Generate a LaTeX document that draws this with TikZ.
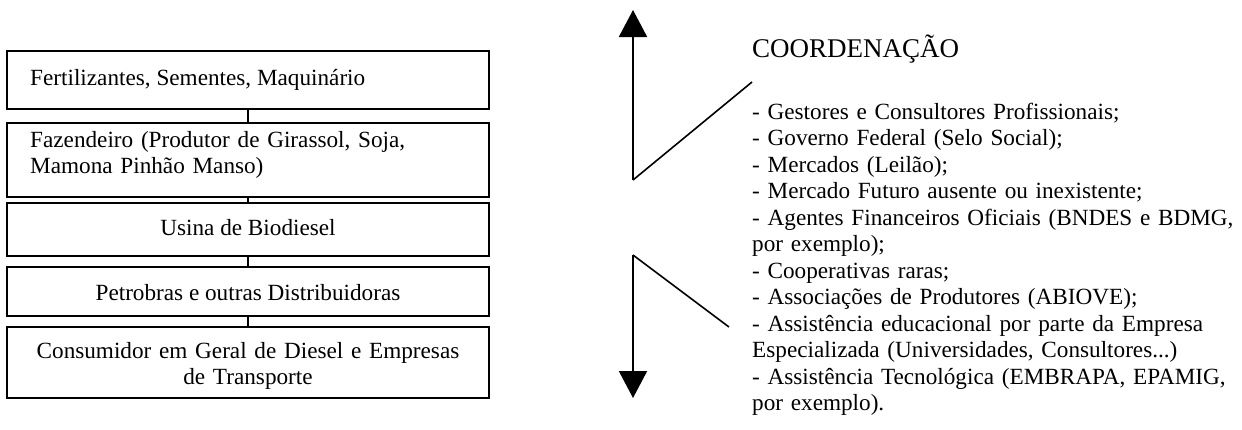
\documentclass[tikz,border=0pt]{standalone}
\usepackage{fontspec}
\setmainfont{Liberation Serif}
\usetikzlibrary{arrows.meta}
\begin{document}
\begin{tikzpicture}[x=1pt,y=-1pt,
  stagebox/.style={draw, line width=2pt, rectangle, inner sep=0pt, minimum width=482pt},
  lbl/.style={inner sep=0pt, font=\fontsize{23.2}{26.5}\selectfont},
  link/.style={line width=2pt},
  bigarrow/.style={line width=2pt, -{Triangle[length=27pt,width=28pt]}},
  diag/.style={line width=1.6pt}]
\useasboundingbox (0,0) rectangle (1242,429);
% chain boxes
\node[stagebox, minimum height=58pt] (b1) at (248,80) {};
\node[stagebox, minimum height=74pt] (b2) at (248,160) {};
\node[stagebox, minimum height=53pt] (b3) at (248,229.5) {};
\node[stagebox, minimum height=49pt] (b4) at (248,291.5) {};
\node[stagebox, minimum height=71pt] (b5) at (248,362.5) {};
\draw[link] (b1.south) -- (b2.north);
\draw[link] (b2.south) -- (b3.north);
\draw[link] (b3.south) -- (b4.north);
\draw[link] (b4.south) -- (b5.north);
% box texts
\node[lbl, anchor=base west] (t1) at (30,85) {Fertilizantes, Sementes, Maquinário};
\node[lbl, anchor=base west, text width=455pt, align=left] (t2) at (30,147) {Fazendeiro (Produtor de Girassol, Soja,\\Mamona Pinhão Manso)};
\node[lbl, anchor=base] (t3) at (248,235) {Usina de Biodiesel};
\node[lbl, anchor=base] (t4) at (248,300) {Petrobras e outras Distribuidoras};
\node[lbl, anchor=base, text width=470pt, align=center] (t5) at (248,358) {Consumidor em Geral de Diesel e Empresas\\de Transporte};
% arrows
\coordinate (upbot) at (633,180);
\coordinate (uptip) at (633,10);
\coordinate (upend) at (752,82);
\coordinate (dntop) at (633,255);
\coordinate (dntip) at (633,398);
\coordinate (dnend) at (729,327);
\draw[bigarrow] (upbot) -- (uptip);
\draw[diag] (upbot) -- (upend);
\draw[bigarrow] (dntop) -- (dntip);
\draw[diag] (dntop) -- (dnend);
% right text
\node[inner sep=0pt, anchor=base west, font=\fontsize{27}{31}\selectfont] (title) at (752,57) {COORDENAÇÃO};
\node[lbl, anchor=base west, text width=488pt, align=left] (list) at (752,119) {%
- Gestores e Consultores Profissionais;\\
- Governo Federal (Selo Social);\\
- Mercados (Leilão);\\
- Mercado Futuro ausente ou inexistente;\\
- Agentes Financeiros Oficiais (BNDES e BDMG,\\
por exemplo);\\
- Cooperativas raras;\\
- Associações de Produtores (ABIOVE);\\
- Assistência educacional por parte da Empresa\\
Especializada (Universidades, Consultores...)\\
- Assistência Tecnológica (EMBRAPA, EPAMIG,\\
por exemplo).};
\end{tikzpicture}
\end{document}
